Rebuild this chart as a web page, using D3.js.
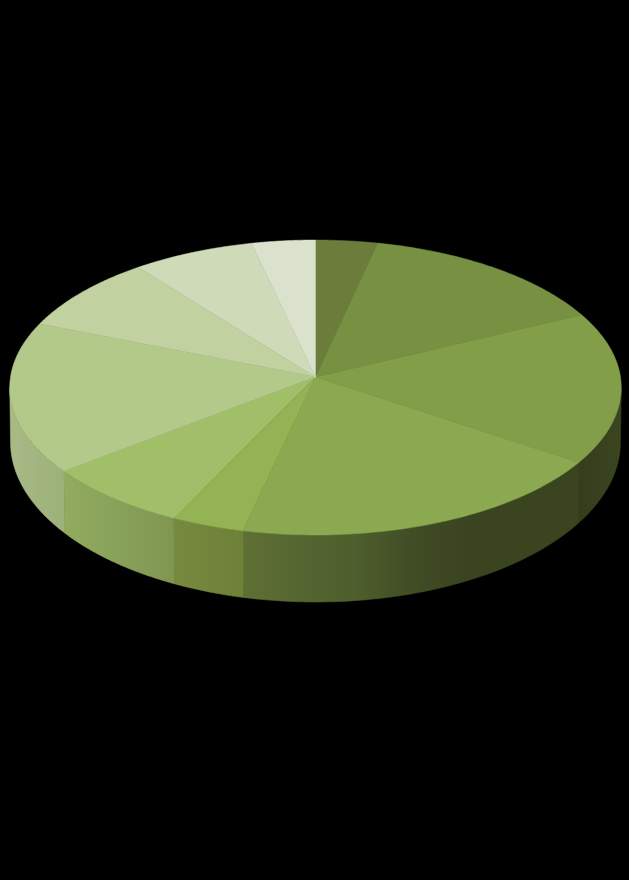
<!DOCTYPE html>
<html>
<head>
<meta charset="utf-8">
<style>html,body{margin:0;padding:0;background:#000}svg{display:block}</style>
<script src="https://cdnjs.cloudflare.com/ajax/libs/d3/7.8.5/d3.min.js"></script>
</head>
<body>
<script>
const sliceValues = [3.5, 14.3, 16.6, 19.1, 3.6, 7.3, 16.6, 8.4, 6.9, 3.6];
const topColors = ["#6b7c3b", "#779042", "#829e49", "#8ba950", "#94b355", "#a1be69", "#b3c989", "#c1d2a0", "#cfdab8", "#dae2cd"];
const wallColors = [
  null, null,
  ["#343d1d", "#3a4520"],
  ["#5f7034", "#566631", "#4e5e2c", "#414d25", "#3a4420", "#3a4520", "#3a4520"],
  ["#78893f", "#6e8138"],
  ["#92ab5e", "#88a15a", "#7f9650"],
  ["#a8ba86", "#9cb079"],
  null, null, null
];

const W = 629, H = 880;
const svg = d3.select("body").append("svg").attr("width", W).attr("height", H);
const defs = svg.append("defs");

const apex = [315.5, 377];
const kP = -0.0712, aP = 146.75, bP = 305;
const topEll = {cx: 315.5, cy: 387.5, rx: 306, ry: 147.5};
const botEll = {cx: 315.5, cy: 442, rx: 305, ry: 160};

function projectTop(theta) {
  const u = Math.sin(theta), v = -Math.cos(theta), w = 1 + kP * v;
  return [apex[0] + bP * u / w, apex[1] + aP * v / w];
}
function phiOf(p) {
  return Math.atan2((p[1] - topEll.cy) / topEll.ry, (p[0] - topEll.cx) / topEll.rx);
}
function projectBot(theta) {
  const phi = phiOf(projectTop(theta));
  return [botEll.cx + botEll.rx * Math.cos(phi), botEll.cy + botEll.ry * Math.sin(phi)];
}

const arcs = d3.pie().sort(null).value(d => d)(sliceValues);
const line = d3.line();
const samples = (a, b) => d3.range(0, 61).map(i => a + (b - a) * i / 60);

// Rim angles where the wall is visible (projected ellipse parameter in [0, pi])
const thetaRight = d3.range(0, 3600).map(i => i / 1800 * Math.PI).find(t => t > 0.5 && phiOf(projectTop(t)) >= 0);
const thetaLeft = d3.range(0, 3600).map(i => i / 1800 * Math.PI).find(t => t > Math.PI && phiOf(projectTop(t)) < 0);

// Walls
arcs.forEach((d, i) => {
  if (!wallColors[i]) return;
  const a = Math.max(d.startAngle, thetaRight), b = Math.min(d.endAngle, thetaLeft);
  if (b <= a) return;
  const ts = samples(a, b);
  const upper = ts.map(projectTop), lower = ts.map(projectBot).reverse();
  const pts = upper.concat(lower);
  const ext = d3.extent(pts, p => p[0]);
  const id = "wall" + i;
  const g = defs.append("linearGradient").attr("id", id).attr("gradientUnits", "userSpaceOnUse")
    .attr("x1", ext[0]).attr("x2", ext[1]).attr("y1", 0).attr("y2", 0);
  const cols = wallColors[i];
  cols.forEach((c, j) => g.append("stop").attr("offset", j / (cols.length - 1)).attr("stop-color", c));
  svg.append("path").attr("d", line(pts) + "Z").attr("fill", `url(#${id})`)
    .attr("stroke", `url(#${id})`).attr("stroke-width", 0.5);
});

// Top face
svg.selectAll("path.top").data(arcs).join("path").attr("class", "top")
  .attr("d", d => line([apex].concat(samples(d.startAngle, d.endAngle).map(projectTop))) + "Z")
  .attr("fill", (d, i) => topColors[i])
  .attr("stroke", (d, i) => topColors[i])
  .attr("stroke-width", 0.5);
</script>
</body>
</html>
